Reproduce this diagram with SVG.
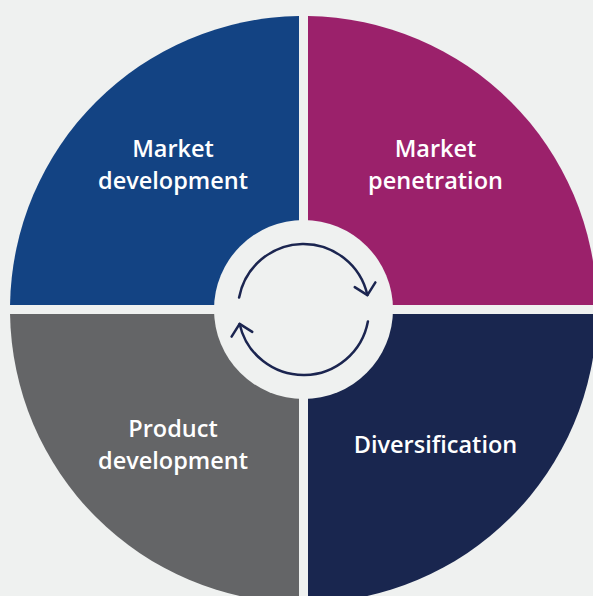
<svg xmlns="http://www.w3.org/2000/svg" width="593" height="596" viewBox="0 0 593 596">
<style>
.lbl{font-family:"Open Sans","Liberation Sans",sans-serif;font-weight:600;font-size:23.5px;fill:#ffffff;text-anchor:middle}
.cyc{fill:none;stroke:#1b2550;stroke-width:2.5;stroke-linecap:round}
</style>
<defs>
<marker id="ah" markerUnits="userSpaceOnUse" markerWidth="30" markerHeight="30" viewBox="-15 -15 30 30" refX="0" refY="0" orient="auto">
<path d="M-10.6,-10.6 L0,0 L-10.6,10.6" fill="none" stroke="#1b2550" stroke-width="2.5" stroke-linecap="round" stroke-linejoin="round"/>
</marker>
</defs>
<rect width="593" height="596" fill="#eff1f0"/>
<g id="market-development">
<path d="M299,305 L299,16.03 A293.5,293.5 0 0 0 10.03,305 Z" fill="#134383"/>
<text class="lbl" x="173" y="157">Market</text>
<text class="lbl" x="173" y="189">development</text>
</g>
<g id="market-penetration">
<path d="M308,305 L308,16.03 A293.5,293.5 0 0 1 596.97,305 Z" fill="#9b216b"/>
<text class="lbl" x="435.5" y="157">Market</text>
<text class="lbl" x="435.5" y="189">penetration</text>
</g>
<g id="product-development">
<path d="M299,314 L10.03,314 A293.5,293.5 0 0 0 299,602.97 Z" fill="#646567"/>
<text class="lbl" x="173" y="437">Product</text>
<text class="lbl" x="173" y="469">development</text>
</g>
<g id="diversification">
<path d="M308,314 L596.97,314 A293.5,293.5 0 0 1 308,602.97 Z" fill="#19264f"/>
<text class="lbl" x="435.5" y="453">Diversification</text>
</g>
<g id="center">
<circle cx="303.5" cy="309.5" r="89.5" fill="#eff1f0"/>
</g>
<g id="connectors">
<path class="cyc" d="M239.1,297.5 A65.5,65.5 0 0 1 367.4,295.1" marker-end="url(#ah)"/>
<path class="cyc" d="M367.9,321.5 A65.5,65.5 0 0 1 239.6,323.9" marker-end="url(#ah)"/>
</g>
</svg>
